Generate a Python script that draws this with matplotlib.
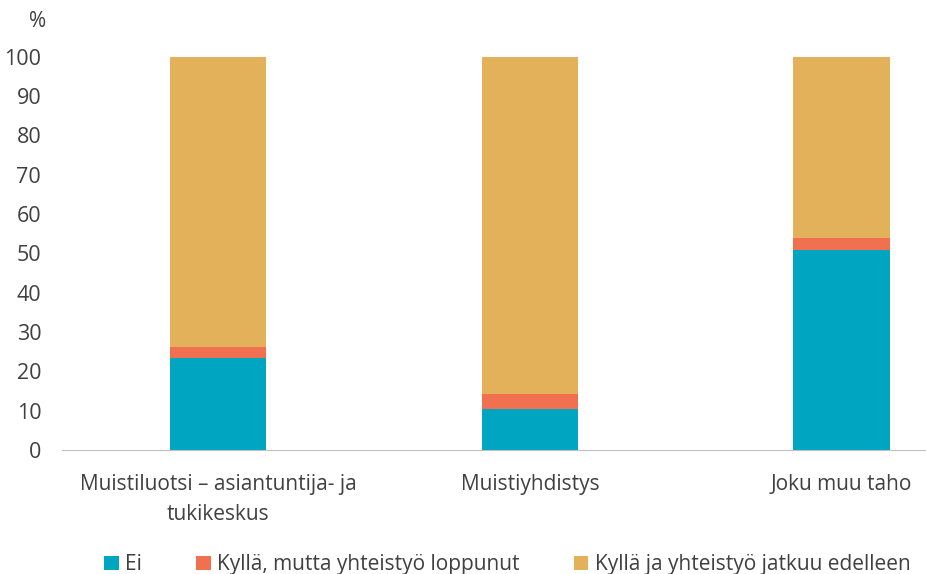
import numpy as np
import matplotlib.pyplot as plt

plt.rcParams['font.family'] = ['Open Sans', 'DejaVu Sans']

categories = ["Muistiluotsi – asiantuntija- ja\ntukikeskus", "Muistiyhdistys", "Joku muu taho"]
ei = [23.5, 10.4, 50.9]
loppunut = [2.8, 3.8, 2.9]
jatkuu = [73.7, 85.8, 46.2]
series_names = ["Ei", "Kyllä, mutta yhteistyö loppunut", "Kyllä ja yhteistyö jatkuu edelleen"]
colors = ["#00A5C2", "#F07050", "#E2B15A"]

fig = plt.figure(figsize=(9.26, 5.74), dpi=100)
ax = fig.add_axes([0.067, 0.216, 0.933, 0.685])

x = np.arange(len(categories))
w = 0.31
bottom = np.zeros(len(categories))
for vals, name, col in zip([ei, loppunut, jatkuu], series_names, colors):
    ax.bar(x, vals, w, bottom=bottom, color=col, label=name)
    bottom += np.array(vals)

ax.set_xlim(-0.5, 2.27)
ax.set_ylim(0, 100)
ax.set_yticks(range(0, 101, 10))
ax.set_xticks(x)
ax.set_xticklabels(categories, linespacing=1.6)
ax.tick_params(axis='both', length=0, colors='#404040')
ax.tick_params(axis='x', labelsize=15, pad=17)
ax.tick_params(axis='y', labelsize=15.5, pad=15)
for s in ['top', 'right', 'left']:
    ax.spines[s].set_visible(False)
ax.spines['bottom'].set_color('#BFBFBF')

fig.text(0.041, 0.962, "%", fontsize=15, color='#404040', ha='center', va='center')

fig.legend(loc='lower center', bbox_to_anchor=(0.548, -0.035), ncol=3, frameon=False,
           fontsize=15, handlelength=0.7, handleheight=0.7, handletextpad=0.3,
           columnspacing=2.6, labelcolor='#404040')

fig.savefig("out.png", dpi=100)
